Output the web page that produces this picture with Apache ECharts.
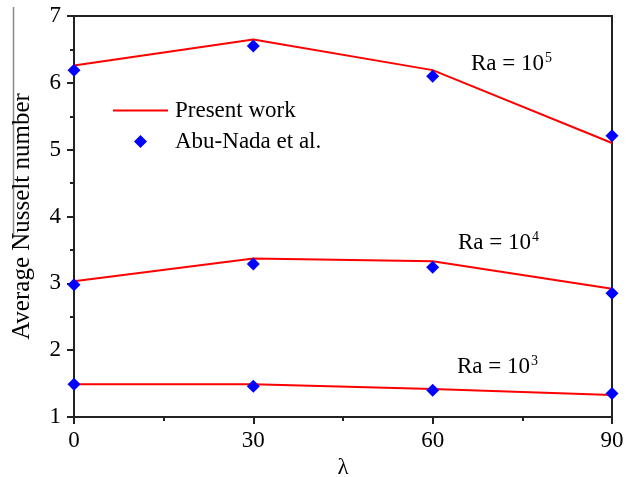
<!DOCTYPE html>
<html>
<head>
<meta charset="utf-8">
<script src="https://cdn.jsdelivr.net/npm/echarts@6/dist/echarts.min.js"></script>
<style>html,body{margin:0;padding:0;background:#fff;}#c{width:635px;height:477px;}</style>
</head>
<body>
<div id="c"></div>
<script>
var lambdas = [0, 30, 60, 90];
var present_Ra3 = [1.49, 1.49, 1.42, 1.33];
var present_Ra4 = [3.03, 3.37, 3.33, 2.92];
var present_Ra5 = [6.26, 6.65, 6.19, 5.10];
var abuNada_Ra3 = [1.49, 1.46, 1.40, 1.35];
var abuNada_Ra4 = [2.98, 3.29, 3.24, 2.85];
var abuNada_Ra5 = [6.19, 6.55, 6.10, 5.21];
var xTicks = [0, 30, 60, 90];
var yTicks = [1, 2, 3, 4, 5, 6, 7];

function pairs(xs, ys) { return xs.map(function (x, i) { return [x, ys[i]]; }); }

var FONT = '"Liberation Serif", "Times New Roman", serif';
var FS = 23;
var chart = echarts.init(document.getElementById('c'));

function lineSeries(data) {
  return { name: 'Present work', type: 'line', data: pairs(lambdas, data), symbol: 'none',
    lineStyle: { color: '#ff0000', width: 2 }, itemStyle: { color: '#ff0000' }, z: 2, animation: false };
}
function dotSeries(data) {
  return { name: 'Abu-Nada et al.', type: 'scatter', data: pairs(lambdas, data), symbol: 'diamond',
    symbolSize: 13, itemStyle: { color: '#0000ff', opacity: 1 }, z: 3, animation: false };
}
function raLabel(x, y, exp) {
  return { type: 'text', left: x, top: y, z: 10,
    style: { text: '{b|Ra = 10}{s|' + exp + '}', rich: {
      b: { fontFamily: FONT, fontSize: FS, fill: '#000', lineHeight: 26 },
      s: { fontFamily: FONT, fontSize: 14, fill: '#000', verticalAlign: 'top', lineHeight: 26, padding: [0, 0, 13, 1] }
    } } };
}

chart.setOption({
  animation: false,
  backgroundColor: '#fff',
  grid: { left: 74, right: 23, top: 16, bottom: 60, show: true, borderColor: '#222', borderWidth: 2,
    outerBoundsMode: 'none', containLabel: false },
  legend: [{
    left: 113, top: 99, padding: 0, itemWidth: 55, itemHeight: 2, icon: 'rect',
    textStyle: { fontFamily: FONT, fontSize: FS, color: '#000', padding: [0, 0, 0, 2] },
    data: [{ name: 'Present work', itemStyle: { color: '#ff0000' } }]
  }, {
    left: 134, top: 130, padding: 0, itemWidth: 13, itemHeight: 13, icon: 'diamond',
    textStyle: { fontFamily: FONT, fontSize: FS, color: '#000', padding: [0, 0, 0, 23] },
    data: [{ name: 'Abu-Nada et al.', itemStyle: { color: '#0000ff' } }]
  }],
  xAxis: {
    type: 'value', min: 0, max: 90, interval: 30,
    name: 'λ', nameLocation: 'middle', nameGap: 35,
    nameTextStyle: { fontFamily: FONT, fontSize: FS, color: '#000' },
    axisLine: { lineStyle: { color: '#222', width: 2 } },
    axisTick: { show: true, inside: false, length: 7, lineStyle: { color: '#222', width: 2 } },
    minorTick: { show: true, splitNumber: 2, length: 4, lineStyle: { color: '#222', width: 2 } },
    splitLine: { show: false },
    axisLabel: { fontFamily: FONT, fontSize: FS, color: '#000', margin: 12,
      formatter: function (v) { return xTicks.indexOf(v) >= 0 ? String(v) : ''; } }
  },
  yAxis: {
    type: 'value', min: 1, max: 7, interval: 1,
    name: 'Average Nusselt number', nameLocation: 'middle', nameGap: 39,
    nameTextStyle: { fontFamily: FONT, fontSize: 25, color: '#000' },
    axisLine: { lineStyle: { color: '#222', width: 2 } },
    axisTick: { show: true, inside: false, length: 7, lineStyle: { color: '#222', width: 2 } },
    minorTick: { show: true, splitNumber: 2, length: 4, lineStyle: { color: '#222', width: 2 } },
    splitLine: { show: false },
    axisLabel: { fontFamily: FONT, fontSize: FS, color: '#000', margin: 13,
      formatter: function (v) { return yTicks.indexOf(v) >= 0 ? String(v) : ''; } }
  },
  graphic: [
    { type: 'line', shape: { x1: 13.5, y1: 7, x2: 13.5, y2: 238 }, style: { stroke: '#888', lineWidth: 1.5 } },
    raLabel(471, 51, '5'),
    raLabel(458, 230, '4'),
    raLabel(457, 354, '3')
  ],
  series: [
    lineSeries(present_Ra5), lineSeries(present_Ra4), lineSeries(present_Ra3),
    dotSeries(abuNada_Ra5), dotSeries(abuNada_Ra4), dotSeries(abuNada_Ra3)
  ]
});
</script>
</body>
</html>
